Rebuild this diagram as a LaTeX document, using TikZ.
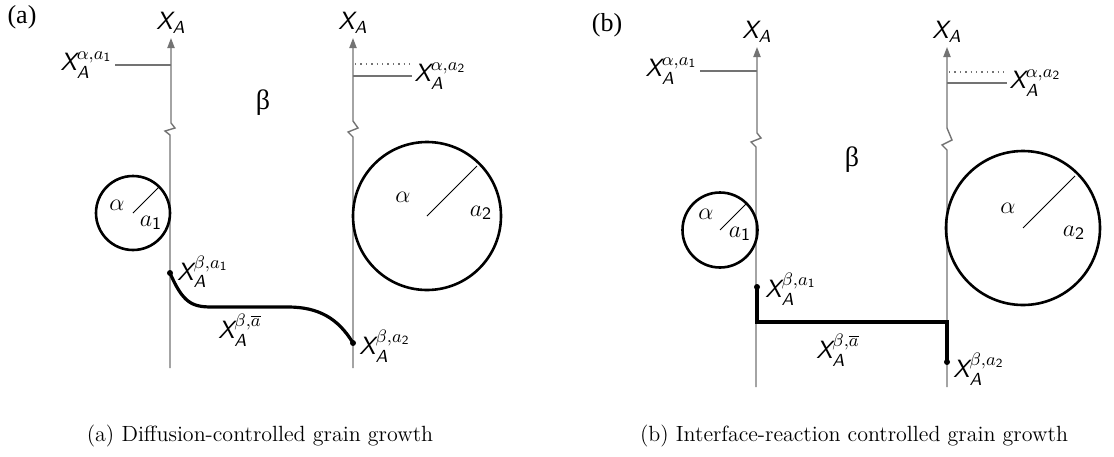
\documentclass[tikz,border=0pt]{standalone}
\usepackage{amsmath}
\usepackage{fontspec}
\newfontfamily\grkfont{Liberation Serif}
\usetikzlibrary{arrows.meta}
\newcommand{\xa}{\text{\sffamily\itshape X}}
\newcommand{\sa}{\text{\sffamily\itshape A}}
\newcommand{\sone}{\text{\sffamily 1}}
\newcommand{\stwo}{\text{\sffamily 2}}

\begin{document}
\begin{tikzpicture}[x=0.5pt,y=-0.5pt,
  axis/.style={black!55,line width=0.7pt},
  tip/.style={-{Triangle[length=5pt,width=3.6pt]}},
  grain/.style={line width=1.3pt},
  profile/.style={line width=1.6pt},
  lab/.style={text=black,font=\fontsize{12.5}{15}\selectfont,inner sep=1pt},
  tag/.style={font=\grkfont\fontsize{13}{15}\selectfont},
  captext/.style={font=\fontsize{11}{13}\selectfont}]
\useasboundingbox (0,0) rectangle (1114,456);
%%% (a) diffusion controlled
\node[tag] (taga) at (22,17) {(a)};
\draw[axis,tip] (170,368) -- (170,135) -- (165,131) -- (175,128) -- (171,123) -- (171,38)
  node[above,lab,inner sep=2pt] (xa1) {$\xa_{\sa}$};
\draw[axis,tip] (353,368) -- (353,137) -- (348,132) -- (358,128) -- (353,121) -- (353,38)
  node[above,lab,inner sep=2pt] (xa2) {$\xa_{\sa}$};
\coordinate (ta1) at (171,65);
\coordinate (ta2) at (353,76);
\draw[axis] (ta1) -- ++(-56,0) node[left,lab] (la1) {$\xa_{\sa}^{\alpha,a_{\sone}}$};
\draw[axis] (ta2) -- ++(59,0) node[right,lab] (la2) {$\xa_{\sa}^{\alpha,a_{\stwo}}$};
\draw[axis,dotted] (355,64) -- (412,64);
\node[font=\grkfont\fontsize{14}{16}\selectfont] (beta) at (263,103) {β};
% grains
\draw[grain] (133,213) circle (37);
\draw[thin] (133,213) -- ++(26,-26);
\node[lab] at (117,205) {$\alpha$};
\node[lab] at (151,223) {$a_{\sone}$};
\draw[grain] (427,216) circle (74);
\draw[thin] (427,216) -- ++(50,-50);
\node[lab] at (403,197) {$\alpha$};
\node[lab] at (481,213) {$a_{\stwo}$};
% concentration profile
\coordinate (pa1) at (170,273);
\coordinate (pa2) at (353,343);
\draw[profile] (pa1) .. controls (183,303) and (192,307) .. (212,307) -- (288,307)
  .. controls (318,307) and (338,318) .. (pa2);
\fill (pa1) circle (1.5pt) (pa2) circle (1.5pt);
\node[lab,right] (lpa1) at (175,272) {$\xa_{\sa}^{\beta,a_{\sone}}$};
\node[lab,right] (lpa2) at (357,346) {$\xa_{\sa}^{\beta,a_{\stwo}}$};
\node[lab] (lpm) at (240,330) {$\xa_{\sa}^{\beta,\overline{a}}$};
\node[captext] (capa) at (260,436) {(a) Diffusion-controlled grain growth};
%%% (b) interface-reaction controlled
\node[tag] (tagb) at (607,25) {(b)};
\draw[axis,tip] (756,387) -- (756,147) -- (751,142) -- (761,138) -- (757,133) -- (757,47)
  node[above,lab,inner sep=2pt] (xb1) {$\xa_{\sa}$};
\draw[axis,tip] (947,387) -- (947,150) -- (942,145) -- (952,140) -- (947,128) -- (947,47)
  node[above,lab,inner sep=2pt] (xb2) {$\xa_{\sa}$};
\coordinate (tb1) at (757,71);
\coordinate (tb2) at (947,83);
\draw[axis] (tb1) -- ++(-57,0) node[left,lab] (lb1) {$\xa_{\sa}^{\alpha,a_{\sone}}$};
\draw[axis] (tb2) -- ++(60,0) node[right,lab] (lb2) {$\xa_{\sa}^{\alpha,a_{\stwo}}$};
\draw[axis,dotted] (949,72) -- (1006,72);
\node[font=\grkfont\fontsize{14}{16}\selectfont] (betb) at (852,160) {β};
% grains
\draw[grain] (720,230) circle (37.5);
\draw[thin] (720,230) -- ++(27,-27);
\node[lab] at (706,214) {$\alpha$};
\node[lab] at (740,234) {$a_{\sone}$};
\draw[grain] (1023,228) circle (77);
\draw[thin] (1023,228) -- ++(52,-52);
\node[lab] at (1008,208) {$\alpha$};
\node[lab] at (1074,233) {$a_{\stwo}$};
% step profile
\coordinate (pb1) at (757,287);
\coordinate (pb2) at (947,362);
\draw[profile] (pb1) |- (947,322) -- (pb2);
\fill (pb1) circle (1.5pt) (pb2) circle (1.5pt);
\node[lab,right] (lpb1) at (763,289) {$\xa_{\sa}^{\beta,a_{\sone}}$};
\node[lab,right] (lpb2) at (951,369) {$\xa_{\sa}^{\beta,a_{\stwo}}$};
\node[lab] (lpn) at (838,350) {$\xa_{\sa}^{\beta,\overline{a}}$};
\node[captext] (capb) at (854,436) {(b) Interface-reaction controlled grain growth};
\end{tikzpicture}
\end{document}
